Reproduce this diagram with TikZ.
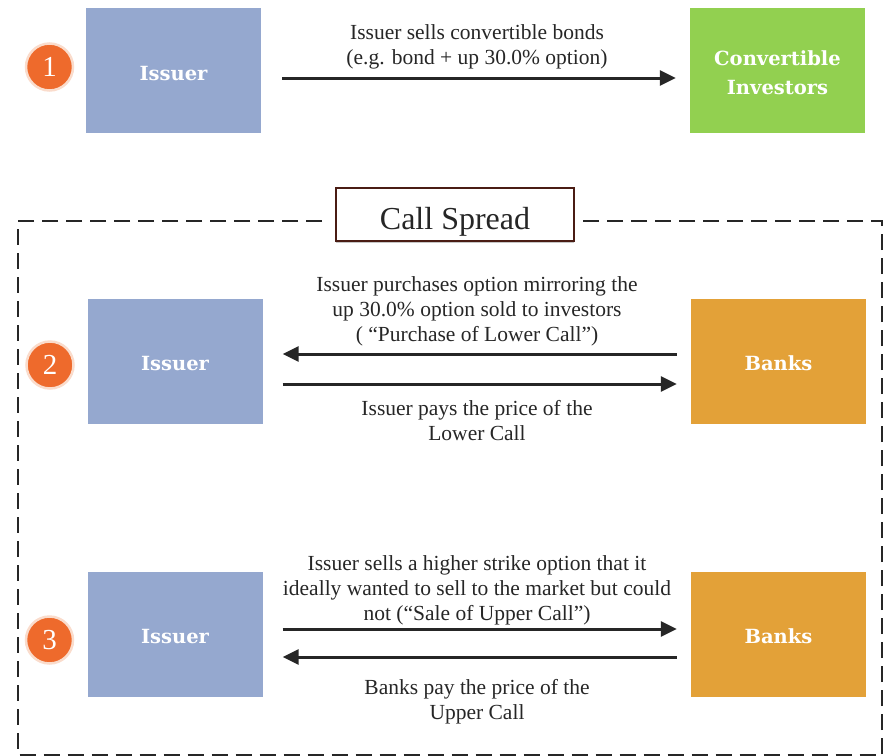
\documentclass[tikz,border=0pt]{standalone}
\usepackage{fontspec}
\usepackage{tikz}
\usepackage{xcolor}
\setmainfont{Liberation Serif}
\newfontfamily\boxfont{DejaVu Serif}
\definecolor{issuerblue}{RGB}{149,168,207}
\definecolor{investgreen}{RGB}{146,208,80}
\definecolor{bankorange}{RGB}{227,161,56}
\definecolor{badgeorange}{RGB}{238,106,44}
\definecolor{badgehalo}{RGB}{250,220,204}
\definecolor{titlebrown}{RGB}{74,28,20}
\definecolor{inkgray}{RGB}{38,38,38}
\usetikzlibrary{arrows.meta}
\usetikzlibrary{shadows}

\begin{document}
\begin{tikzpicture}[x=1pt, y=-1pt,
  party/.style={minimum width=175pt, minimum height=125pt, inner sep=0pt, text=white,
    font=\boxfont\bfseries\fontsize{19.5}{29}\selectfont, align=center},
  single/.style={text height=19pt, text depth=0pt},
  badge/.style={circle, fill=badgeorange, draw=badgehalo, line width=2.5pt, minimum size=47pt,
    inner sep=0pt, text=white, font=\fontsize{29}{29}\selectfont},
  flow/.style={draw=inkgray, line width=3pt, -{Triangle[length=16pt, width=15pt]}},
  note/.style={text=inkgray, align=center, font=\fontsize{21.5}{25}\selectfont}]
\useasboundingbox (0,0) rectangle (888,755);

\node[badge] (one) at (49.5,67) {1};
\node[party, single, fill=issuerblue] (issuerA) at (173.5,70.5) {Issuer};
\node[party, fill=investgreen] (investors) at (777.5,70.5) {\rule{0pt}{19pt}Convertible\\Investors};
\draw[flow, shorten <=21pt, shorten >=14pt] ([yshift=-7.5pt]issuerA.east) -- ([yshift=-7.5pt]investors.west);
\node[note] (sellnote) at (477,46.5) {Issuer sells convertible bonds\\(e.g. bond + up 30.0\% option)};

\node[draw=titlebrown, line width=1.2pt, fill=white, minimum width=238pt, minimum height=53pt,
  text height=30pt, text depth=1pt, font=\fontsize{32}{32}\selectfont, text=inkgray,
  drop shadow={shadow xshift=0pt, shadow yshift=-1.5pt, opacity=0.45}] (title) at (455,214.5) {Call Spread};
\draw[draw=inkgray, line width=2.2pt, dash pattern=on 16pt off 8pt] (322,221) -- (18,221) -- (18,755.5) -- (882,755.5) -- (882,221) -- (582,221);

\node[badge] (two) at (50,365) {2};
\node[party, single, fill=issuerblue] (issuerB) at (175,361) {Issuer};
\node[party, single, fill=bankorange] (banksB) at (778.5,361) {Banks};
\draw[flow, shorten <=14pt, shorten >=20pt] ([yshift=7pt]banksB.west) -- ([yshift=7pt]issuerB.east);
\draw[flow, shorten <=20pt, shorten >=14pt] ([yshift=-23pt]issuerB.east) -- ([yshift=-23pt]banksB.west);
\node[note] (buynote) at (477,311) {Issuer purchases option mirroring the\\up 30.0\% option sold to investors\\( ``Purchase of Lower Call'')};
\node[note] (paynoteB) at (477,421) {Issuer pays the price of the\\Lower Call};

\node[badge] (three) at (49.5,640) {3};
\node[party, single, fill=issuerblue] (issuerC) at (175,634) {Issuer};
\node[party, single, fill=bankorange] (banksC) at (778.5,634) {Banks};
\draw[flow, shorten <=20pt, shorten >=14pt] ([yshift=5pt]issuerC.east) -- ([yshift=5pt]banksC.west);
\draw[flow, shorten <=14pt, shorten >=20pt] ([yshift=-23pt]banksC.west) -- ([yshift=-23pt]issuerC.east);
\node[note] (sellnoteC) at (477,590) {Issuer sells a higher strike option that it\\ideally wanted to sell to the market but could\\not (``Sale of Upper Call'')};
\node[note] (paynoteC) at (477,701.5) {Banks pay the price of the\\Upper Call};
\end{tikzpicture}
\end{document}
